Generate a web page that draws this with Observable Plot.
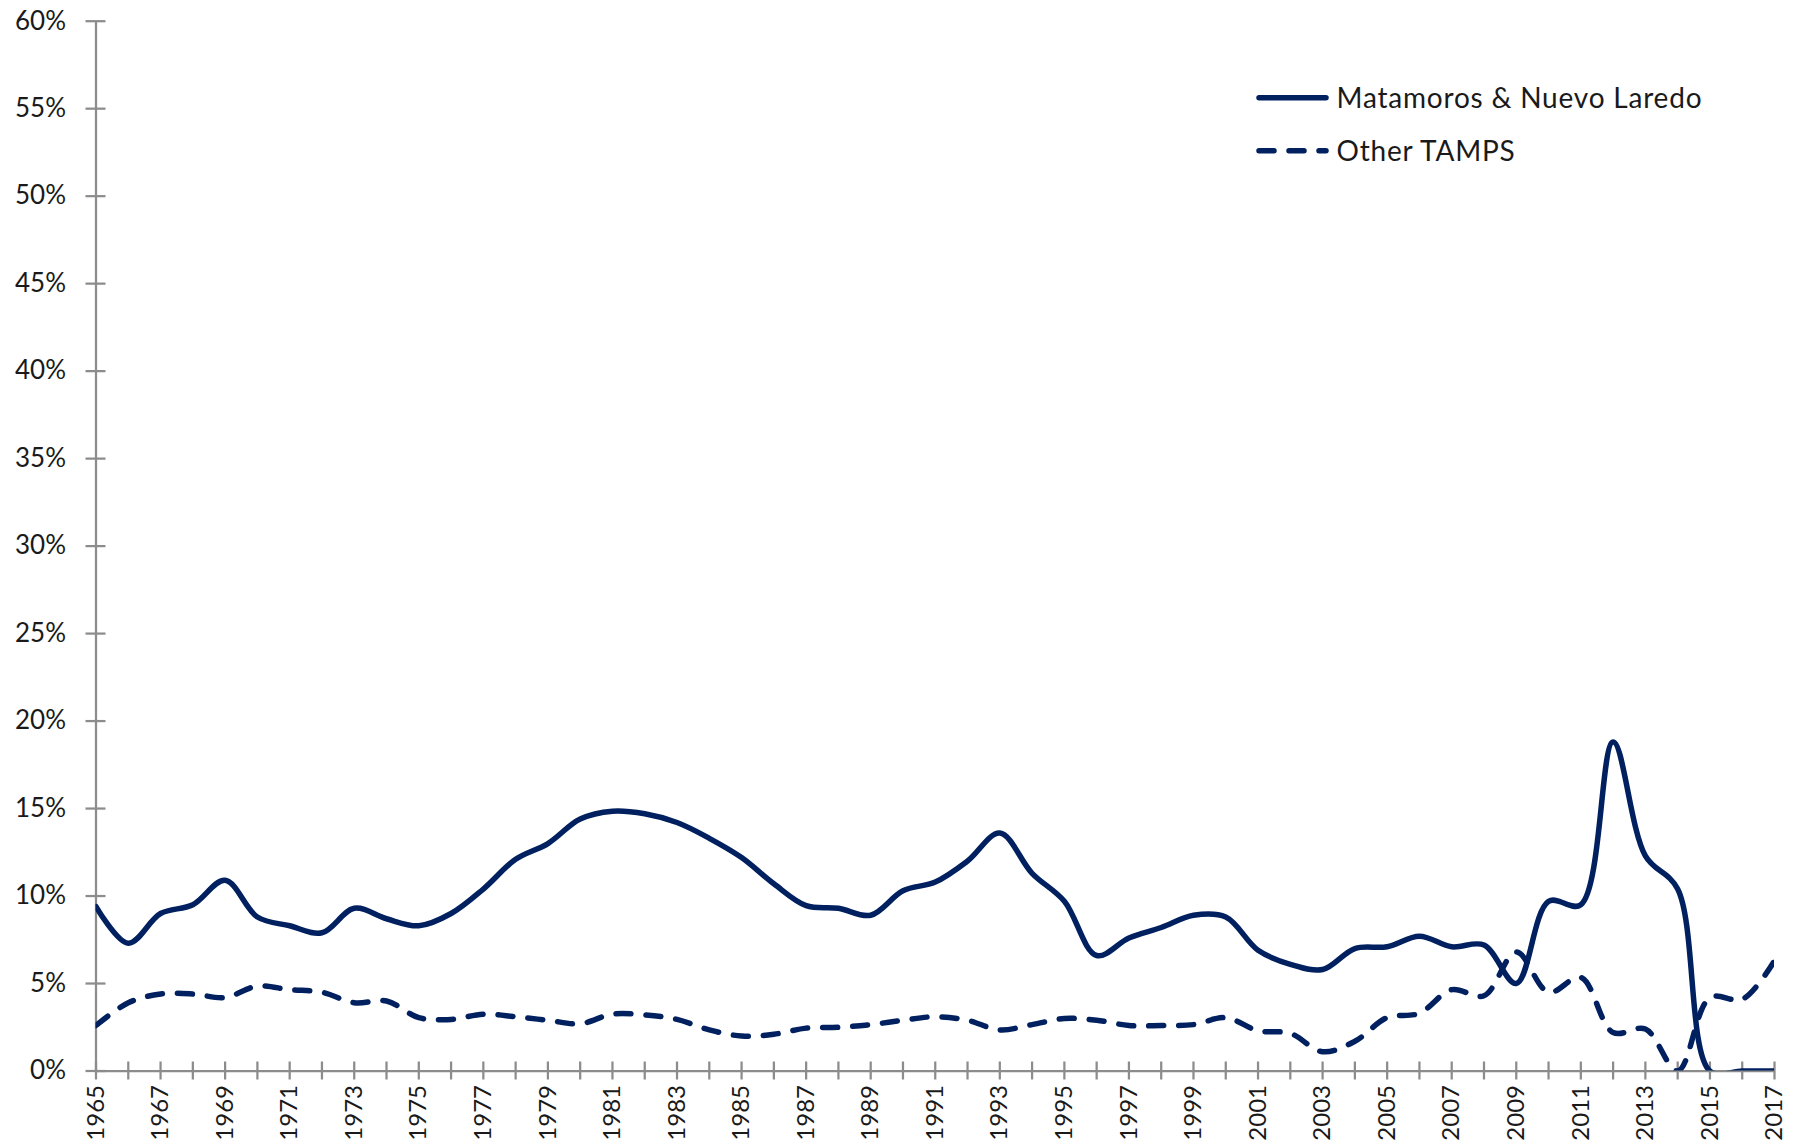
<!DOCTYPE html>
<html>
<head>
<meta charset="utf-8">
<script src="https://cdn.jsdelivr.net/npm/d3@7"></script>
<script src="https://cdn.jsdelivr.net/npm/@observablehq/plot@0.6"></script>
<style>
  html, body { margin: 0; padding: 0; background: #fff; }
  #wrap { position: relative; width: 1799px; height: 1147px; font-family: Lato, "Noto Sans", sans-serif; }
  #legend { position: absolute; left: 0; top: 0; pointer-events: none; }
</style>
</head>
<body>
<div id="wrap"></div>
<script>
// ---- data ----
const years = d3.range(1965, 2018);
const seriesNames = ["Matamoros & Nuevo Laredo", "Other TAMPS"];
const matamorosNuevoLaredo = [
  9.4, 7.3, 9.0, 9.5, 10.9, 8.8, 8.3, 7.9, 9.3, 8.7,
  8.3, 9.0, 10.4, 12.1, 13.0, 14.4, 14.85, 14.7, 14.2, 13.3,
  12.2, 10.7, 9.45, 9.3, 8.9, 10.3, 10.8, 12.0, 13.6, 11.3,
  9.7, 6.6, 7.6, 8.2, 8.9, 8.8, 6.9, 6.1, 5.8, 7.0,
  7.1, 7.7, 7.1, 7.2, 5.0, 9.7, 9.5, 18.8, 12.3, 10.4,
  0, 0, 0
];
const otherTamps = [
  2.6, 3.9, 4.4, 4.4, 4.2, 4.85, 4.65, 4.5, 3.9, 4.0,
  3.05, 2.95, 3.25, 3.1, 2.9, 2.7, 3.25, 3.2, 2.95, 2.35,
  2.0, 2.1, 2.45, 2.5, 2.65, 2.9, 3.1, 2.9, 2.35, 2.65,
  3.0, 2.9, 2.6, 2.6, 2.65, 3.05, 2.3, 2.15, 1.1, 1.7,
  3.05, 3.3, 4.65, 4.3, 6.8, 4.5, 5.35, 2.2, 2.4, 0,
  4.2, 4.1, 6.3
];
const yTicks = d3.range(0, 0.6001, 0.05);
const xLabelYears = d3.range(1965, 2018, 2);

// ---- styles ----
const navy = "#002060";
const axisGray = "#8c8c8c";
const textColor = "#1a1a1a";
const lineWidth = 5.5;

const solidData = years.map((yr, i) => ({year: yr, value: matamorosNuevoLaredo[i] / 100}));
const dashData = years.map((yr, i) => ({year: yr, value: otherTamps[i] / 100}));

const chart = Plot.plot({
  width: 1799,
  height: 1147,
  marginLeft: 95.5,
  marginRight: 25,
  marginTop: 20.7,
  marginBottom: 76.5,
  style: {fontFamily: "Lato, 'Noto Sans', sans-serif", fontSize: "26px", color: textColor, background: "#fff"},
  x: {domain: [1965, 2017]},
  y: {domain: [0, 0.6]},
  marks: [
    // axis lines
    Plot.ruleX([1965], {stroke: axisGray, strokeWidth: 2.25}),
    Plot.ruleY([0], {stroke: axisGray, strokeWidth: 2.25}),
    // crossing tick marks
    Plot.ruleY(yTicks, {y: d => d, x1: 1965, x2: 1965, insetLeft: -10, insetRight: -10, stroke: axisGray, strokeWidth: 2.25}),
    Plot.ruleX(years, {x: d => d, y1: 0, y2: 0, insetTop: -9, insetBottom: -9, stroke: axisGray, strokeWidth: 2.25}),
    // tick labels
    Plot.axisY({ticks: yTicks, tickFormat: d3.format(".0%"), tickSize: 0, tickPadding: 30, fill: textColor, fontSize: 26, label: null}),
    Plot.axisX({ticks: xLabelYears, tickFormat: d => String(d), tickRotate: -90, tickSize: 0, tickPadding: 14, fill: textColor, fontSize: 24, label: null}),
    // series
    Plot.line(dashData, {x: "year", y: "value", stroke: navy, strokeWidth: lineWidth, strokeDasharray: "15,15", strokeLinecap: "round", curve: "catmull-rom", clip: true}),
    Plot.line(solidData, {x: "year", y: "value", stroke: navy, strokeWidth: lineWidth, strokeLinecap: "round", curve: "catmull-rom", clip: true})
  ]
});

const wrap = document.getElementById("wrap");
wrap.appendChild(chart);

// ---- legend overlay ----
const legend = d3.select(wrap).append("svg")
  .attr("id", "legend")
  .attr("width", 1799).attr("height", 1147);
const items = [
  {name: seriesNames[0], dash: null, y: 97.7},
  {name: seriesNames[1], dash: "15,15", y: 150.7}
];
const g = legend.selectAll("g").data(items).join("g");
g.append("line")
  .attr("x1", 1259).attr("x2", 1326)
  .attr("y1", d => d.y).attr("y2", d => d.y)
  .attr("stroke", navy).attr("stroke-width", lineWidth)
  .attr("stroke-linecap", "round")
  .attr("stroke-dasharray", d => d.dash);
g.append("text")
  .attr("x", 1336.5).attr("y", d => d.y + 9.8)
  .attr("fill", textColor)
  .attr("font-family", "Lato, 'Noto Sans', sans-serif")
  .attr("font-size", 28)
  .attr("letter-spacing", "0.8px")
  .text(d => d.name);
</script>
</body>
</html>
